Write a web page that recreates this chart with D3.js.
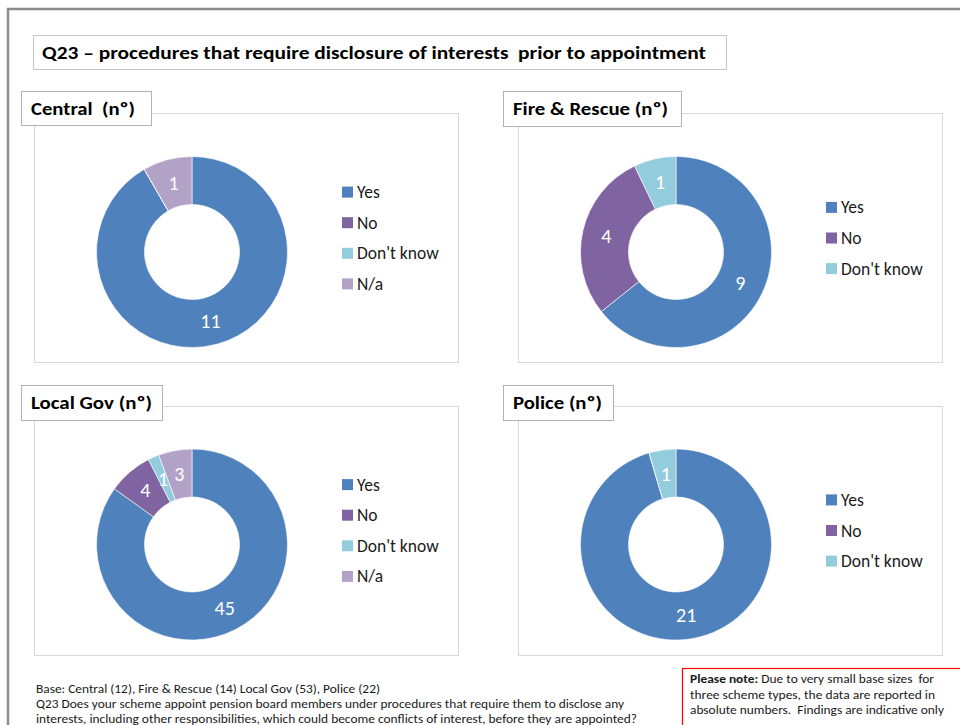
<!DOCTYPE html>
<html lang="en">
<head>
  <meta charset="UTF-8">
  <title>Q23 – procedures that require disclosure of interests prior to appointment</title>
  <script src="https://d3js.org/d3.v7.min.js"></script>
  <style>
    body { margin: 0; background: #fff; }
    text { font-family: Carlito, Lato, "Open Sans", sans-serif; white-space: pre; }
  </style>
</head>
<body>
  <div id="chart"></div>
  <script>
    const width = 960;
    const height = 725;

    // Datos
    const categories = ["Yes", "No", "Don't know", "N/a"];
    const colors = ["#4f81bd", "#8064a2", "#93cddd", "#b3a2c7"];
    const panelTitles = ["Central  (nº)", "Fire & Rescue (nº)", "Local Gov (nº)", "Police (nº)"];
    const central = [11, 0, 0, 1];
    const fireRescue = [9, 4, 1];
    const localGov = [45, 4, 1, 3];
    const police = [21, 0, 1];
    const panelValues = [central, fireRescue, localGov, police];

    const title = "Q23 – procedures that require disclosure of interests  prior to appointment";
    const baseNote = [
      "Base: Central (12), Fire & Rescue (14) Local Gov (53), Police (22)",
      "Q23 Does your scheme appoint pension board members under procedures that require them to disclose any",
      "interests, including other responsibilities, which could become conflicts of interest, before they are appointed?"
    ];
    const pleaseNote = [
      ["Please note:", " Due to very small base sizes  for"],
      ["", "three scheme types, the data are reported in"],
      ["", "absolute numbers.  Findings are indicative only"]
    ];

    // Posiciones de los paneles
    const layout = [
      { hx: 21, hy: 91, hw: 130, hh: 34, tw: 104, fx: 34, fy: 113, cx: 192, cy: 252 },
      { hx: 503, hy: 91, hw: 178, hh: 35, tw: 155, fx: 518, fy: 113, cx: 676, cy: 252 },
      { hx: 21, hy: 385, hw: 141, hh: 35, tw: 121, fx: 34, fy: 406, cx: 192, cy: 544.5 },
      { hx: 503, hy: 385, hw: 110, hh: 35, tw: 89, fx: 518, fy: 406, cx: 676, cy: 544.5 }
    ];
    const frameW = 424, frameH = 249;
    const outerR = 95.5, innerR = 47.5;

    const svg = d3.select("#chart").append("svg")
      .attr("width", width)
      .attr("height", height);

    // Borde exterior
    svg.append("path")
      .attr("d", `M8,${height} L8,9 L${width},9`)
      .attr("fill", "none")
      .attr("stroke", "#8c8c8c")
      .attr("stroke-width", 2.5);

    // Titulo
    svg.append("rect")
      .attr("x", 33.5).attr("y", 35.5).attr("width", 693).attr("height", 34)
      .attr("fill", "#fff").attr("stroke", "#c6c6c6");
    svg.append("text")
      .attr("x", 42).attr("y", 59)
      .attr("font-size", 19).attr("font-weight", "bold")
      .attr("textLength", 664).attr("lengthAdjust", "spacingAndGlyphs")
      .text(title);

    const color = d3.scaleOrdinal().domain(categories).range(colors);
    const pie = d3.pie().sort(null).value(d => d.value);
    const arc = d3.arc().innerRadius(innerR).outerRadius(outerR);
    const labelArc = d3.arc().innerRadius((innerR + outerR) / 2).outerRadius((innerR + outerR) / 2);

    panelValues.forEach((values, i) => {
      const L = layout[i];
      const g = svg.append("g");
      const rows = values.map((v, j) => ({ cat: categories[j], value: v }));

      // Marco
      g.append("rect")
        .attr("x", L.fx + 0.5).attr("y", L.fy + 0.5)
        .attr("width", frameW).attr("height", frameH)
        .attr("fill", "#fff").attr("stroke", "#d9d9d9");

      // Encabezado
      g.append("rect")
        .attr("x", L.hx + 0.5).attr("y", L.hy + 0.5)
        .attr("width", L.hw).attr("height", L.hh)
        .attr("fill", "#fff").attr("stroke", "#b2b2b2");
      g.append("text")
        .attr("x", L.hx + 10).attr("y", L.hy + 24)
        .attr("font-size", 19).attr("font-weight", "bold")
        .attr("textLength", L.tw).attr("lengthAdjust", "spacingAndGlyphs")
        .text(panelTitles[i]);

      // Dona
      const donut = g.append("g").attr("transform", `translate(${L.cx},${L.cy})`);
      const arcs = pie(rows);
      donut.selectAll("path")
        .data(arcs)
        .enter().append("path")
        .attr("d", arc)
        .attr("fill", d => color(d.data.cat))
        .attr("stroke", "#fff")
        .attr("stroke-width", 0.6);
      donut.selectAll("text")
        .data(arcs.filter(d => d.data.value > 0))
        .enter().append("text")
        .attr("transform", d => `translate(${labelArc.centroid(d)})`)
        .attr("text-anchor", "middle")
        .attr("dominant-baseline", "central")
        .attr("font-size", 20)
        .attr("fill", "#fff")
        .text(d => d.data.value);

      // Leyenda
      const step = 30.6;
      const y0 = L.cy - 14 - step * (rows.length - 1) / 2;
      const legend = g.selectAll(".legend")
        .data(rows)
        .enter().append("g")
        .attr("transform", (d, j) => `translate(${L.cx + 150},${y0 + j * step})`);
      legend.append("rect")
        .attr("x", 0).attr("y", -5.5).attr("width", 11).attr("height", 11)
        .attr("fill", d => color(d.cat));
      legend.append("text")
        .attr("x", 15).attr("y", 0)
        .attr("dominant-baseline", "central")
        .attr("font-size", 17.5)
        .attr("fill", "#1a1a1a")
        .text(d => d.cat);
    });

    // Notas al pie
    const baseWidths = [344, 588, 601];
    svg.selectAll(".base")
      .data(baseNote)
      .enter().append("text")
      .attr("x", 36)
      .attr("y", (d, i) => 693 + i * 15)
      .attr("font-size", 12.5)
      .attr("fill", "#1a1a1a")
      .attr("textLength", (d, i) => baseWidths[i])
      .attr("lengthAdjust", "spacingAndGlyphs")
      .text(d => d);

    svg.append("rect")
      .attr("x", 682.5).attr("y", 668.5).attr("width", 290).attr("height", 60)
      .attr("fill", "#fff").attr("stroke", "#ff0000").attr("stroke-width", 1.2);
    const noteWidths = [244, 245, 254];
    const note = svg.selectAll(".note")
      .data(pleaseNote)
      .enter().append("text")
      .attr("x", 690)
      .attr("y", (d, i) => 683 + i * 15.5)
      .attr("font-size", 12)
      .attr("fill", "#1a1a1a")
      .attr("textLength", (d, i) => noteWidths[i])
      .attr("lengthAdjust", "spacingAndGlyphs");
    note.append("tspan").attr("font-weight", "bold").text(d => d[0]);
    note.append("tspan").text(d => d[1]);
  </script>
</body>
</html>
